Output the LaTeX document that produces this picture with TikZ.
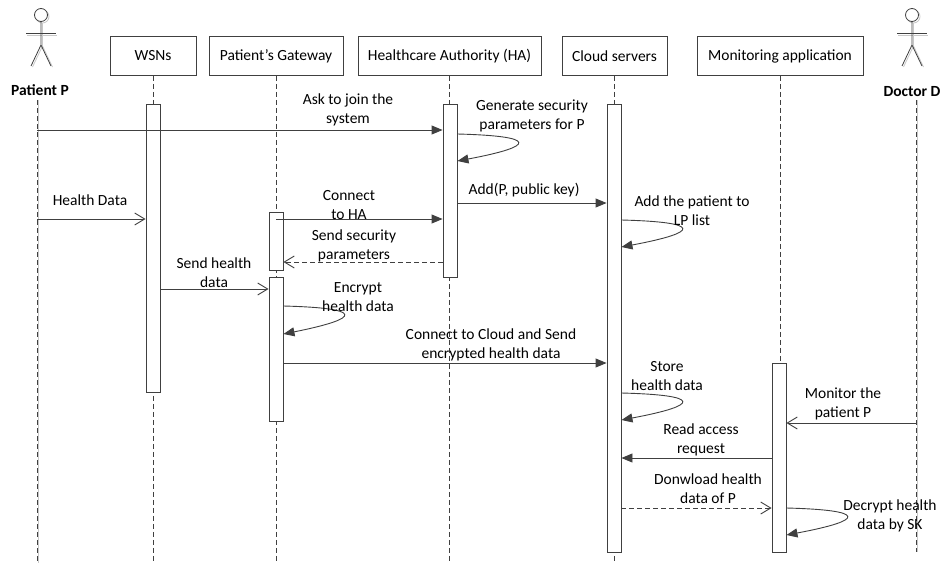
\documentclass[tikz,border=0pt]{standalone}
\usepackage{fontspec}
\setmainfont{Carlito}
\usetikzlibrary{arrows.meta,calc}
\definecolor{lc}{RGB}{64,64,64}
\definecolor{sh}{RGB}{200,200,200}
\newcommand\myfs{\fontsize{15.5}{19}\selectfont}
\tikzset{
  ln/.style={draw=lc, line width=0.9pt},
  hdr/.style={draw=lc, line width=0.9pt, minimum height=39pt, inner sep=0pt, anchor=north, font=\myfs},
  actbox/.style={draw=lc, fill=white, line width=0.9pt, minimum width=14pt, inner sep=0pt, anchor=north},
  life/.style={draw=lc, line width=0.8pt, dash pattern=on 5pt off 3pt},
  sync/.style={ln, -{Triangle[length=11pt,width=9pt]}},
  async/.style={ln, -{Straight Barb[length=10pt,width=12pt]}},
  reply/.style={async, dash pattern=on 5pt off 3pt},
  lbl/.style={align=center, font=\myfs, inner sep=0pt},
  actorname/.style={font=\myfs\bfseries, inner sep=0pt},
}
\begin{document}
\begin{tikzpicture}[x=1pt,y=-1pt]
\useasboundingbox (0,0) rectangle (941,563);
% header boxes
\node[hdr, minimum width=86pt]  (wsn) at (153,36) {WSNs};
\node[hdr, minimum width=134pt] (gw)  at (276,36) {Patient’s Gateway};
\node[hdr, minimum width=183pt] (ha)  at (449.5,36) {Healthcare Authority (HA)};
\node[hdr, minimum width=105pt] (cs)  at (614.5,36) {Cloud servers};
\node[hdr, minimum width=166pt] (ma)  at (780,36) {Monitoring application};
% actors
\node[actorname] (patN) at (40,90) {Patient P};
\node[actorname] (docN) at (912,92) {Doctor D};
\coordinate (patL) at (37,100);
\coordinate (patE) at (37,563);
\coordinate (docL) at (916,100);
\coordinate (docE) at (916,552);
\foreach \cx in {41,912}{
  \draw[sh, line width=0.8pt] (\cx+1.5,15+1.5) circle (6.5pt);
  \draw[sh, line width=0.8pt] (\cx-14,35) -- (\cx+16,35);
  \draw[sh, line width=0.8pt] (\cx+1.5,23) -- (\cx+1.5,46) (\cx+1.5,46) -- (\cx-8.5,67) (\cx+1.5,46) -- (\cx+11.5,67);
  \draw[lc, line width=0.8pt, fill=white] (\cx,15) circle (6.5pt);
  \draw[lc, line width=0.8pt] (\cx-15,33) -- (\cx+15,33);
  \draw[lc, line width=0.8pt] (\cx,21.5) -- (\cx,45) -- (\cx-10,66) (\cx,45) -- (\cx+10,66);
}
% lifelines
\draw[sh, line width=0.8pt] ($(patL)+(1.8,0)$) -- ($(patE)+(1.8,0)$);
\draw[life] (patL) -- (patE);
\draw[sh, line width=0.8pt] ($(docL)+(1.8,0)$) -- ($(docE)+(1.8,0)$);
\draw[life] (docL) -- (docE);
\draw[life] (wsn.south) -- (wsn.south |- 0,563);
\draw[life] (gw.south) -- (gw.south |- 0,563);
\draw[life] (ha.south) -- (ha.south |- 0,563);
\draw[life] (cs.south) -- (cs.south |- 0,563);
\draw[life] (ma.south) -- (ma.south |- 0,552);
% activations
\node[actbox, minimum height=288pt] (wA)  at (153,104) {};
\node[actbox, minimum height=58pt]  (gA1) at (276,212) {};
\node[actbox, minimum height=144pt] (gA2) at (276,277) {};
\node[actbox, minimum height=173pt] (hA)  at (450,104) {};
\node[actbox, minimum height=448pt] (cA)  at (614,104) {};
\node[actbox, minimum height=189pt] (mA)  at (779,363) {};
% messages
\draw[sync] (patL |- 0,130) -- (hA.west |- 0,130);
\node[lbl] (l1) at (348,110) {Ask to join the\\system};
\draw[sync] (hA.east |- 0,134) .. controls +(80,2) and +(80,-15) .. (hA.east |- 0,161);
\node[lbl] (l2) at (532,116) {Generate security\\parameters for P};
\draw[async] (patL |- 0,219) -- (wA.west |- 0,219);
\node[lbl] (l3) at (90,200) {Health Data};
\draw[sync] (hA.east |- 0,203) -- (cA.west |- 0,203);
\node[lbl] (l4) at (524,190) {Add(P, public key)};
\draw[sync] (cA.east |- 0,220) .. controls +(80,2) and +(80,-15) .. (cA.east |- 0,247);
\node[lbl] (l5) at (692,211) {Add the patient to\\LP list};
\draw[sync] (gA1.center |- 0,219) -- (hA.west |- 0,219);
\node[lbl] (l6) at (349,205) {Connect\\to HA};
\draw[reply] (hA.west |- 0,262) -- (gA1.east |- 0,262);
\node[lbl] (l7) at (354,246) {Send security\\parameters};
\draw[async] (wA.east |- 0,289) -- (gA2.west |- 0,289);
\node[lbl] (l8) at (214,273) {Send health\\data};
\draw[sync] (gA2.east |- 0,306) .. controls +(80,2) and +(80,-16) .. (gA2.east |- 0,334);
\node[lbl] (l9) at (358,297) {Encrypt\\health data};
\draw[sync] (gA2.east |- 0,363) -- (cA.west |- 0,363);
\node[lbl] (l10) at (491,345) {Connect to Cloud and Send\\encrypted health data};
\draw[sync] (cA.east |- 0,393) .. controls +(80,2) and +(80,-15) .. (cA.east |- 0,420);
\node[lbl] (l11) at (667,376) {Store\\health data};
\draw[async] (docL |- 0,423) -- (mA.east |- 0,423);
\node[lbl] (l12) at (843,404) {Monitor the\\patient P};
\draw[sync] (mA.west |- 0,458) -- (cA.east |- 0,458);
\node[lbl] (l13) at (701,440) {Read access\\request};
\draw[reply] (cA.east |- 0,508) -- (mA.west |- 0,508);
\node[lbl] (l14) at (708,489) {Donwload health\\data of P};
\draw[sync] (mA.east |- 0,508) .. controls +(80,2) and +(80,-15) .. (mA.east |- 0,535);
\node[lbl] (l15) at (890,516) {Decrypt health\\data by SK};
\end{tikzpicture}
\end{document}
